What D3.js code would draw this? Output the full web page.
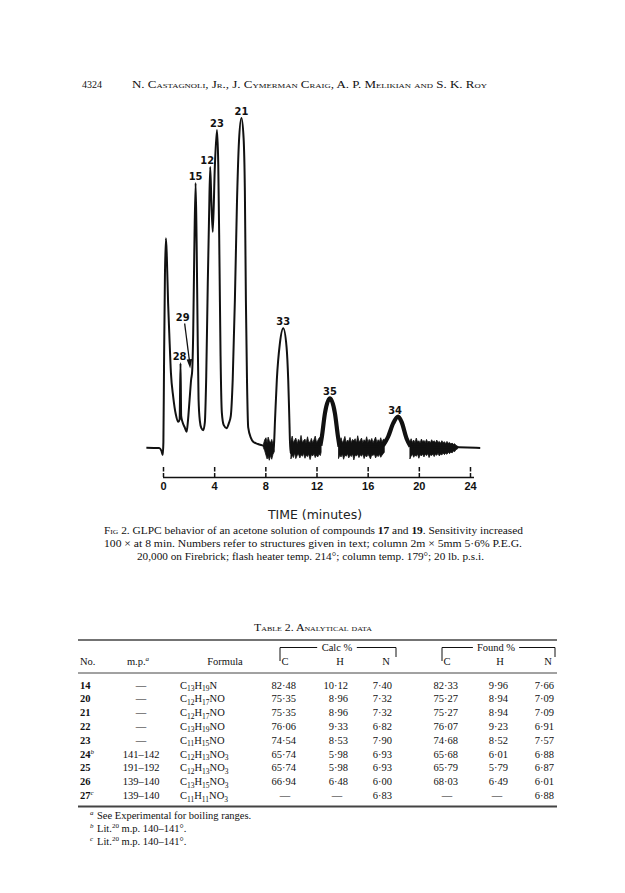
<!DOCTYPE html>
<html><head><meta charset="utf-8">
<script src="https://cdn.jsdelivr.net/npm/d3@7"></script>
<style>body{margin:0;background:#fff} svg{display:block}</style>
</head><body>
<svg id="page" width="625" height="893"></svg>
<script>
// ---------------- DATA ----------------
// chromatogram trace: [time (min), detector signal (arbitrary units)]
const trace = [
[-1.3,0.4],[-0.3,0.3],[-0.12,-0.6],[-0.02,-1.8],[0.03,2],[0.08,25],[0.15,52],[0.23,63.7],[0.3,58],[0.4,44],[0.49,35],[0.62,23],[0.8,15.7],[1.0,10.5],[1.2,8.2],[1.3,9],[1.37,25.9],[1.42,10],[1.52,8.2],[1.7,6.5],[1.85,5.2],[1.95,8.5],[2.08,15],[2.2,21],[2.28,23.5],[2.36,35],[2.44,58],[2.55,80.4],[2.63,62],[2.7,38],[2.78,15],[2.88,8.5],[3.0,6.3],[3.15,5.7],[3.27,8],[3.38,22],[3.5,50],[3.6,70],[3.69,85.2],[3.78,75],[3.89,65.6],[4.05,85],[4.22,96.4],[4.32,86],[4.42,55],[4.5,28],[4.6,11],[4.75,7.2],[4.97,6.3],[5.15,7.8],[5.3,10],[5.45,21],[5.62,45],[5.78,74],[5.94,93],[6.13,100],[6.3,94],[6.4,78],[6.48,45],[6.57,20],[6.66,6.5],[6.88,3.3],[7.05,2.2],[7.42,1.5],[7.85,1.0],[8.2,0.5],[8.5,-0.4],[8.67,1.2],[8.76,9],[8.9,21],[9.14,32],[9.4,36.5],[9.66,30.8],[9.79,20.8],[9.88,8.8],[9.96,-1.2],[10.06,0.6],[11.0,0.6],[12.3,1.0],[12.42,3.7],[12.66,10.8],[13.05,15.3],[13.44,10.8],[13.68,3.7],[13.8,0.7],[15.5,0.6],[17.2,1.0],[17.6,3.7],[18.0,7.8],[18.38,9.8],[18.65,8.2],[19.04,3.2],[19.35,0.8],[21,0.6],[23.1,0.5],[24.8,0.3]
];
// baseline noise after the sensitivity increase: [time, low, high]; null separates stretches
const noise = [
[7.85,0.4,1.4],[7.95,-0.5,2.8],[8.05,-1.9,3.4],[8.14,-3.0,1.9],[8.22,-2.2,3.6],[8.31,-3.4,2.5],[8.4,-2.0,1.8],[8.5,-3.1,2.9],[8.6,-1.6,1.4],[8.7,-0.8,2.6],null,
[10.0,-3.0,2.4],[10.1,-1.8,3.9],[10.19,-2.6,1.9],[10.3,-1.2,2.7],[10.38,-2.9,3.3],[10.5,-1.9,1.6],[10.58,-1.4,2.9],[10.7,-2.7,2.2],[10.79,-1.7,4.1],[10.9,-2.2,1.8],[10.98,-1.3,2.5],[11.1,-2.8,3.0],[11.18,-1.9,1.7],[11.3,-2.3,3.7],[11.38,-1.5,2.3],[11.5,-3.2,2.0],[11.6,-1.7,3.2],[11.7,-2.1,1.9],[11.8,-1.4,2.8],[11.9,-2.6,3.9],[12.0,-1.8,2.0],[12.1,-2.4,2.6],[12.2,-1.5,3.3],[12.3,-2.0,3.6],[12.36,-1.0,3.2],null,
[13.72,-2.9,3.0],[13.82,-1.9,2.2],[13.92,-2.4,3.4],[14.02,-1.5,1.9],[14.12,-3.1,2.6],[14.22,-1.8,3.8],[14.32,-2.2,1.8],[14.42,-1.4,2.7],[14.52,-2.7,2.3],[14.62,-1.9,3.5],[14.72,-2.3,1.9],[14.82,-1.5,2.9],[14.92,-3.3,2.4],[15.02,-1.8,3.1],[15.12,-2.1,1.8],[15.22,-1.6,4.0],[15.32,-2.6,2.2],[15.42,-1.7,2.6],[15.52,-2.2,3.3],[15.62,-1.4,1.9],[15.72,-2.9,2.8],[15.82,-1.9,2.1],[15.92,-2.4,3.7],[16.02,-1.6,2.0],[16.12,-2.2,2.9],[16.22,-3.0,2.3],[16.32,-1.7,3.2],[16.42,-2.0,1.9],[16.52,-1.5,2.7],[16.62,-2.7,3.6],[16.72,-1.8,2.0],[16.82,-2.3,2.8],[16.92,-1.6,2.2],[17.02,-2.5,3.4],[17.12,-1.9,2.1],[17.22,-1.4,2.9],[17.3,-1.0,3.0],null,
[19.3,-3.0,2.2],[19.4,-2.1,3.1],[19.5,-1.6,2.0],[19.6,-2.5,2.7],[19.7,-1.8,1.9],[19.8,-2.2,3.3],[19.9,-1.5,2.1],[20.0,-2.8,2.5],[20.1,-1.7,1.8],[20.2,-2.1,3.0],[20.3,-1.5,2.2],[20.4,-2.4,2.6],[20.5,-1.6,1.9],[20.6,-2.0,2.9],[20.7,-1.4,2.0],[20.8,-2.6,2.4],[20.9,-1.7,1.8],[21.0,-2.0,2.8],[21.1,-1.5,2.1],[21.2,-2.3,2.5],[21.3,-1.6,1.8],[21.4,-1.9,2.7],[21.5,-1.3,2.0],[21.6,-2.1,2.3],[21.7,-1.5,1.7],[21.8,-1.8,2.5],[21.9,-1.2,1.9],[22.0,-1.7,2.2],[22.1,-1.3,1.6],[22.2,-1.6,2.3],[22.3,-1.0,1.7],[22.4,-1.4,2.0],[22.5,-0.9,1.5],[22.6,-1.2,1.8],[22.7,-0.6,1.4],[22.8,-0.8,1.6],[22.9,-0.2,1.1],[23.0,0.0,0.9],[23.08,0.3,0.7]
];
// labelled peaks
const peakNames = ["21","23","12","15","28","33","35","34"];
const peakTimes = [6.13,4.22,3.69,2.55,1.37,9.4,13.05,18.38];
const peakHeights = [100,96.4,85.2,80.4,25.9,36.5,15.3,9.8];
const shoulderName = "29", shoulderTime = 2.24, shoulderHeight = 22.5;
const timeTicks = [0,4,8,12,16,20,24];

// table 2
const tblNo = ["14","20","21","22","23","24","25","26","27"];
const tblNoMark = ["","","","","","b","","","c"];
const tblMp = ["—","—","—","—","—","141–142","191–192","139–140","139–140"];
const tblFormula = ["C13H19N","C12H17NO","C12H17NO","C13H19NO","C11H15NO","C12H13NO3","C12H13NO3","C13H15NO3","C11H11NO3"];
const calcC = ["82·48","75·35","75·35","76·06","74·54","65·74","65·74","66·94","—"];
const calcH = ["10·12","8·96","8·96","9·33","8·53","5·98","5·98","6·48","—"];
const calcN = ["7·40","7·32","7·32","6·82","7·90","6·93","6·93","6·00","6·83"];
const foundC = ["82·33","75·27","75·27","76·07","74·68","65·68","65·79","68·03","—"];
const foundH = ["9·96","8·94","8·94","9·23","8·52","6·01","5·79","6·49","—"];
const foundN = ["7·66","7·09","7·09","6·91","7·57","6·88","6·87","6·01","6·88"];

// ---------------- DRAW ----------------
const svg = d3.select('#page');
const serif = "'Liberation Serif','Times New Roman',serif";
const sans = "'Liberation Sans Narrow','DejaVu Sans Condensed','Liberation Sans',sans-serif";
const ink = "#111";

// running head
svg.append('text').attr('x',82).attr('y',88).attr('font-family',serif).attr('font-size',10).attr('fill',ink).text('4324');
svg.append('text').attr('x',132).attr('y',88).attr('font-family',serif).attr('font-size',10.5)
  .style('font-variant','small-caps').attr('fill',ink)
  .attr('textLength',355).attr('lengthAdjust','spacingAndGlyphs')
  .text('N. Castagnoli, Jr., J. Cymerman Craig, A. P. Melikian and S. K. Roy');

// chromatogram
const x = d3.scaleLinear().domain([0,24]).range([163,470]);
const y = d3.scaleLinear().domain([0,100]).range([449,118]);
const g = svg.append('g');

const area = d3.area().defined(d => d !== null)
  .x(d => x(d[0])).y0(d => y(d[1])).y1(d => y(d[2]));
g.append('path').datum(noise).attr('d', area).attr('fill', ink).attr('stroke', ink).attr('stroke-width',0.8);

const line = d3.line().x(d => x(d[0])).y(d => y(d[1])).curve(d3.curveMonotoneX);
g.append('path').datum(trace).attr('d', line).attr('fill','none').attr('stroke',ink)
  .attr('stroke-width',2).attr('stroke-linejoin','round');
// noisy peaks after the sensitivity increase are drawn heavier
[[12.3,13.8],[17.2,19.35]].forEach(r => {
  g.append('path').datum(trace.filter(d => d[0] >= r[0] && d[0] <= r[1]))
    .attr('d', line).attr('fill','none').attr('stroke',ink).attr('stroke-width',4.2).attr('stroke-linejoin','round');
});

// peak labels
const nudge = {"12":-3,"34":-3,"28":-1,"15":0};
g.selectAll('text.peak').data(peakNames).enter().append('text').attr('class','peak')
  .attr('x',(d,i) => x(peakTimes[i]) + (nudge[d]||0))
  .attr('y',(d,i) => y(peakHeights[i]) - 3)
  .attr('text-anchor','middle').attr('font-family',sans).attr('font-weight','bold')
  .attr('font-size',11).attr('fill',ink).text(d => d);
// shoulder 29 with arrow
const sx = x(shoulderTime), sy = y(shoulderHeight);
g.append('text').attr('x', sx - 9).attr('y', sy - 54).attr('text-anchor','middle')
  .attr('font-family',sans).attr('font-weight','bold').attr('font-size',11).attr('fill',ink).text(shoulderName);
g.append('line').attr('x1',sx-7).attr('y1',sy-51).attr('x2',sx-2).attr('y2',sy-12)
  .attr('stroke',ink).attr('stroke-width',1.3);
g.append('path').attr('d',`M${sx-5},${sy-15} L${sx+0.5},${sy-15.5} L${sx-1.5},${sy-6} Z`).attr('fill',ink);

// time axis
const axis = d3.axisBottom(x).tickValues(timeTicks).tickSize(-10).tickSizeOuter(0).tickPadding(5);
const ag = svg.append('g').attr('transform','translate(0,477)').call(axis);
ag.select('.domain').attr('stroke',ink).attr('stroke-width',1.6).attr('d','M163,0.5H474');
ag.selectAll('.tick line').attr('stroke',ink).attr('stroke-width',1.5).attr('stroke-dasharray','4,1.5,5');
ag.selectAll('.tick text').attr('font-family',"'Liberation Sans','DejaVu Sans',sans-serif")
  .attr('font-weight','bold').attr('font-size',11).attr('fill',ink);
svg.append('text').attr('x',315).attr('y',519).attr('text-anchor','middle')
  .attr('font-family',"'DejaVu Sans',sans-serif").attr('font-size',13).attr('fill','#222')
  .attr('textLength',94).attr('lengthAdjust','spacingAndGlyphs').text('TIME (minutes)');

// caption
function caption(parts, xPos, yPos, len, anchor){
  const t = svg.append('text').attr('x',xPos).attr('y',yPos).attr('font-family',serif)
    .attr('font-size',10.5).attr('fill',ink).attr('text-anchor',anchor||'start')
    .attr('textLength',len).attr('lengthAdjust','spacingAndGlyphs');
  parts.forEach(p => {
    const s = t.append('tspan').text(p[0]);
    if (p[1]==='b') s.attr('font-weight','bold');
    if (p[1]==='sc') s.style('font-variant','small-caps');
  });
}
caption([["Fig 2.",'sc'],[" GLPC behavior of an acetone solution of compounds "],["17",'b'],[" and "],["19",'b'],[". Sensitivity increased"]],104,534,419);
caption([["100 × at 8 min. Numbers refer to structures given in text; column 2m × 5mm 5·6% P.E.G."]],104,547,418);
caption([["20,000 on Firebrick; flash heater temp. 214°; column temp. 179°; 20 lb. p.s.i."]],137,560,347);

// ---------------- TABLE ----------------
const tg = svg.append('g').attr('font-family',serif).attr('fill',ink).attr('font-size',10.5);
tg.append('text').attr('x',313).attr('y',631).attr('text-anchor','middle').style('font-variant','small-caps')
  .attr('font-size',10.5).attr('textLength',118).attr('lengthAdjust','spacingAndGlyphs').text('Table 2. Analytical data');
const rule = (yy, w) => tg.append('line').attr('x1',78).attr('x2',557).attr('y1',yy).attr('y2',yy)
  .attr('stroke','#444').attr('stroke-width',w);
rule(640,1.3); rule(673,1.0); rule(806.5,1.8);

// header
const hdr = (txt, xx, anchor) => tg.append('text').attr('x',xx).attr('y',665).attr('text-anchor',anchor).text(txt);
hdr('No.',80,'start');
const mp = hdr('m.p.',138,'middle'); mp.append('tspan').attr('dy',-4).attr('font-size',7).attr('font-style','italic').text('a');
hdr('Formula',225,'middle');
[['C',285],['H',340],['N',386],['C',447],['H',500],['N',548]].forEach(h => hdr(h[0],h[1],'middle'));
function bracket(x1,x2,label,cx){
  tg.append('text').attr('x',cx).attr('y',651).attr('text-anchor','middle').text(label);
  const w = label.length*3.3;
  tg.append('path').attr('d',`M${x1},661V647.5H${cx-w}M${cx+w},647.5H${x2}V657`)
    .attr('fill','none').attr('stroke',ink).attr('stroke-width',1);
}
bracket(280,396,'Calc %',337);
bracket(442,555,'Found %',496);

// rows
const rowY = d3.scalePoint().domain(d3.range(tblNo.length)).range([688.5,799]);
tblNo.forEach((n,i) => {
  const t = tg.append('text').attr('x',80).attr('y',rowY(i)).attr('font-weight','bold').text(n);
  if (tblNoMark[i]) t.append('tspan').attr('dy',-4).attr('font-size',7).attr('font-style','italic').attr('font-weight','normal').text(tblNoMark[i]);
  tg.append('text').attr('x',141).attr('y',rowY(i)).attr('text-anchor','middle').text(tblMp[i]);
  const f = tg.append('text').attr('x',180).attr('y',rowY(i));
  let shifted = false;
  tblFormula[i].match(/[A-Z][a-z]?|\d+/g).forEach(tok => {
    if (/\d/.test(tok)) { f.append('tspan').attr('dy',shifted?0:2.5).attr('font-size',7.5).text(tok); shifted = true; }
    else { f.append('tspan').attr('dy',shifted?-2.5:0).text(tok); shifted = false; }
  });
});
const numCols = [[calcC,296],[calcH,348],[calcN,392],[foundC,458],[foundH,508],[foundN,554]];
numCols.forEach(([arr, xr]) => {
  arr.forEach((v,i) => {
    const dash = v === '—';
    tg.append('text').attr('x', dash ? xr-11 : xr).attr('y',rowY(i))
      .attr('text-anchor', dash ? 'middle' : 'end').text(v);
  });
});

// footnotes
const notes = [["a","See Experimental for boiling ranges."],["b","Lit.","20"," m.p. 140–141°."],["c","Lit.","20"," m.p. 140–141°."]];
const noteY = d3.scalePoint().domain([0,1,2]).range([819,845]);
notes.forEach((n,i) => {
  tg.append('text').attr('x',90).attr('y',noteY(i)-4).attr('font-size',7).attr('font-style','italic').text(n[0]);
  const t = tg.append('text').attr('x',97).attr('y',noteY(i)).attr('font-size',10.5);
  t.append('tspan').text(n[1]);
  if (n[2]) { t.append('tspan').attr('dy',-4).attr('font-size',7).text(n[2]); t.append('tspan').attr('dy',4).text(n[3]); }
});
</script>
</body></html>
